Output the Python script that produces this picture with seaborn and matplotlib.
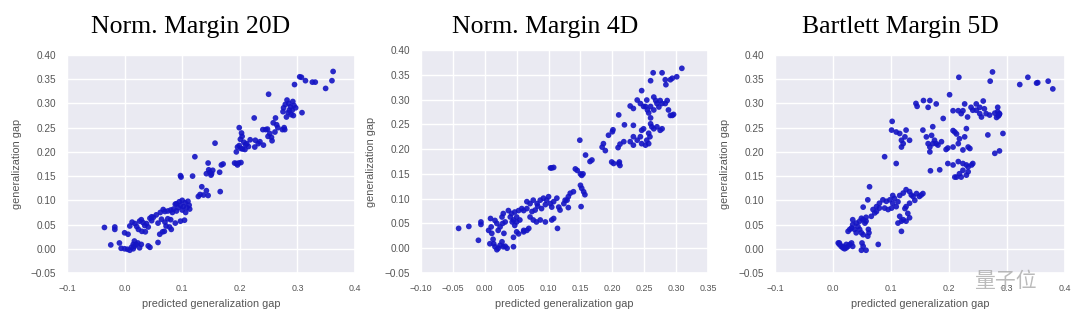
import numpy as np
import pandas as pd
import matplotlib
matplotlib.use("Agg")
import matplotlib.pyplot as plt
import seaborn as sns

titles = ["Norm. Margin 20D", "Norm. Margin 4D", "Bartlett Margin 5D"]
xlabel = "predicted generalization gap"
ylabel = "generalization gap"

x1 = [0.362,0.360,0.349,0.331,0.326,0.314,0.304,0.307,0.295,0.308,0.250,
      0.282,0.285,0.288,0.291,0.294,0.297,0.279,0.276,0.284,0.289,0.293,0.281,0.286,0.275,0.292,0.278,0.277,0.274,
      0.262,0.258,0.264,0.261,0.252,0.249,0.255,0.245,0.248,0.266,0.240,0.256,0.227,0.232,0.241,0.226,0.235,0.225,0.199,
      0.203,0.204,0.201,0.199,0.205,0.215,0.212,0.218,0.196,0.209,0.194,0.210,0.207,0.202,0.191,0.194,0.198,0.202,0.196,0.157,0.122,
      0.145,0.148,0.151,0.142,0.153,0.165,0.168,0.171,0.146,0.150,0.097,0.098,0.118,0.134,0.128,0.131,0.137,0.145,0.142,0.166,
      0.090,0.095,0.100,0.105,0.110,0.097,0.102,0.108,0.112,0.093,0.088,0.085,0.080,0.090,0.100,0.106,0.113,0.075,0.070,0.083,
      0.097,0.104,0.088,0.081,0.078,0.080,
      0.067,0.062,0.055,0.050,0.047,0.058,0.064,0.070,0.075,0.072,0.066,0.061,0.069,0.058,0.041,0.044,
      0.029,0.032,0.035,0.018,0.021,0.024,0.030,0.036,0.041,0.044,0.047,0.013,0.038,0.026,
      -0.035,-0.024,-0.017,-0.017,-0.009,-0.006,0.000,0.005,0.009,0.006,0.000,0.009,0.015,0.017,0.020,0.023,0.017,0.015,0.029,0.026,0.012]
y1 = [0.366,0.347,0.331,0.344,0.344,0.347,0.355,0.354,0.339,0.281,0.319,
      0.307,0.300,0.293,0.286,0.296,0.291,0.298,0.291,0.281,0.277,0.275,0.272,0.286,0.283,0.304,0.246,0.250,0.246,
      0.270,0.260,0.256,0.241,0.238,0.232,0.230,0.246,0.247,0.250,0.246,0.223,0.224,0.217,0.214,0.210,0.221,0.270,0.250,
      0.239,0.232,0.226,0.213,0.206,0.211,0.217,0.225,0.210,0.205,0.200,0.215,0.220,0.207,0.177,0.176,0.177,0.178,0.173,0.218,0.190,
      0.177,0.158,0.155,0.155,0.162,0.158,0.173,0.175,0.163,0.152,0.151,0.148,0.150,0.128,0.108,0.112,0.111,0.110,0.120,0.118,
      0.093,0.097,0.100,0.095,0.098,0.090,0.087,0.085,0.090,0.085,0.092,0.082,0.080,0.078,0.080,0.075,0.082,0.078,0.077,0.075,
      0.057,0.059,0.053,0.040,0.045,0.060,
      0.081,0.075,0.070,0.065,0.058,0.053,0.061,0.055,0.062,0.047,0.035,0.030,0.036,0.013,0.006,0.003,
      0.060,0.054,0.048,0.052,0.046,0.040,0.036,0.035,0.045,0.063,0.066,0.055,0.052,0.057,
      0.044,0.008,0.045,0.040,0.012,0.001,0.000,-0.001,-0.003,0.030,0.033,0.047,0.009,0.005,0.009,0.012,0.016,0.000,0.009,0.002,0.003]

x2 = [0.309,0.301,0.294,0.291,0.284,0.283,0.278,0.264,0.260,0.246,
      0.265,0.268,0.270,0.273,0.275,0.278,0.283,0.286,0.288,0.291,0.294,0.296,0.265,0.260,0.257,0.260,0.255,0.252,
      0.228,0.233,0.239,0.244,0.249,0.254,0.233,0.260,0.262,0.265,0.270,0.275,0.278,0.249,0.246,0.244,0.239,0.233,0.228,0.233,
      0.246,0.252,0.257,0.254,0.259,0.257,0.210,0.219,0.201,0.200,0.194,0.186,0.184,0.189,0.209,0.212,0.218,
      0.199,0.202,0.210,0.211,0.212,0.149,0.158,0.165,0.168,0.142,0.145,0.150,0.152,0.154,0.150,0.152,0.155,0.157,0.151,
      0.103,0.105,0.108,0.139,0.134,0.131,0.129,0.126,0.124,0.131,0.113,0.116,0.118,0.114,
      0.066,0.071,0.076,0.082,0.087,0.092,0.097,0.103,0.105,0.108,0.100,0.089,0.079,0.074,0.083,0.095,
      0.071,0.076,0.081,0.087,0.095,0.105,0.108,0.061,0.066,0.069,0.061,0.053,0.050,0.045,
      0.037,0.042,0.047,0.050,0.055,0.050,0.047,0.045,0.040,0.043,0.053,0.058,0.061,0.066,
      0.029,0.027,0.032,0.028,0.024,0.021,0.019,0.016,0.010,0.009,0.006,0.011,
      0.008,0.014,0.016,0.019,0.021,0.024,0.029,0.027,0.032,0.035,0.045,
      -0.041,-0.025,-0.010,-0.006,-0.006,0.030,0.013]
y2 = [0.363,0.346,0.343,0.340,0.330,0.340,0.354,0.354,0.338,0.318,
      0.305,0.298,0.292,0.285,0.298,0.292,0.292,0.298,0.279,0.268,0.268,0.270,0.279,0.286,0.273,0.263,0.279,0.286,
      0.287,0.282,0.299,0.292,0.286,0.299,0.248,0.251,0.245,0.241,0.245,0.238,0.241,0.241,0.238,0.225,0.218,0.225,0.215,0.208,
      0.211,0.208,0.211,0.218,0.225,0.232,0.269,0.249,0.239,0.235,0.228,0.211,0.204,0.197,0.203,0.210,0.215,
      0.174,0.171,0.171,0.174,0.167,0.218,0.188,0.175,0.178,0.160,0.157,0.150,0.147,0.150,0.127,0.121,0.114,0.108,0.084,
      0.162,0.162,0.163,0.114,0.111,0.104,0.097,0.097,0.090,0.082,0.101,0.083,0.077,0.040,
      0.094,0.090,0.097,0.090,0.097,0.101,0.097,0.090,0.083,0.094,0.104,0.080,0.077,0.074,0.085,0.088,
      0.063,0.057,0.053,0.057,0.053,0.057,0.060,0.036,0.036,0.040,0.033,0.029,0.033,0.022,
      0.076,0.070,0.073,0.063,0.057,0.053,0.046,0.057,0.063,0.053,0.076,0.080,0.076,0.080,
      0.070,0.063,0.053,0.050,0.043,0.036,0.050,0.056,0.043,0.060,0.036,0.030,
      0.009,0.009,0.003,-0.003,0.000,0.006,0.003,0.013,0.004,0.000,0.003,
      0.040,0.044,0.016,0.053,0.048,0.030,0.018]

x3 = [0.322,0.336,0.351,0.353,0.371,0.379,0.275,0.271,0.217,0.201,
      0.279,0.284,0.287,0.286,0.284,0.287,0.270,0.293,0.282,0.285,0.279,0.287,0.267,
      0.247,0.253,0.259,0.261,0.264,0.253,0.241,0.238,0.232,0.247,0.256,0.216,0.221,0.227,0.224,0.207,
      0.207,0.213,0.218,0.216,0.227,0.230,0.233,0.224,0.236,0.207,0.210,0.198,0.195,
      0.198,0.207,0.216,0.224,0.230,0.233,0.239,0.241,0.224,0.218,0.213,0.221,0.230,0.233,0.210,
      0.155,0.161,0.164,0.167,0.172,0.175,0.170,0.178,0.167,0.181,0.172,0.190,0.187,
      0.143,0.145,0.156,0.164,0.167,0.178,0.168,0.184,
      0.102,0.101,0.109,0.115,0.118,0.124,0.126,0.121,0.118,0.132,0.109,0.089,
      0.126,0.132,0.135,0.138,0.144,0.149,0.152,0.155,0.141,0.132,0.124,0.126,0.129,
      0.115,0.121,0.118,0.112,0.126,0.132,0.118,
      0.069,0.075,0.080,0.086,0.092,0.098,0.103,0.106,0.095,0.101,0.109,0.112,0.089,0.080,0.075,0.072,0.066,
      0.063,0.060,0.115,0.121,0.103,
      0.034,0.040,0.043,0.046,0.049,0.052,0.055,0.057,0.046,0.037,0.032,0.034,0.029,0.026,0.040,0.049,0.052,
      0.061,0.062,0.060,0.052,0.057,0.050,0.049,0.057,0.052,0.078,
      0.009,0.011,0.014,0.017,0.020,0.023,0.026,0.029,0.032,0.034,0.023,0.017,0.011]
y3 = [0.339,0.354,0.342,0.343,0.346,0.330,0.365,0.346,0.354,0.318,
      0.280,0.283,0.279,0.276,0.292,0.278,0.276,0.238,0.271,0.274,0.197,0.202,0.235,
      0.299,0.292,0.305,0.289,0.279,0.279,0.286,0.292,0.272,0.286,0.272,0.285,0.279,0.299,0.285,0.285,
      0.244,0.237,0.227,0.217,0.231,0.248,0.210,0.204,0.207,0.210,0.241,0.208,0.205,
      0.176,0.173,0.180,0.176,0.173,0.169,0.173,0.176,0.162,0.155,0.148,0.148,0.152,0.159,0.148,
      0.245,0.231,0.217,0.210,0.217,0.224,0.234,0.217,0.200,0.214,0.252,0.269,0.221,
      0.300,0.294,0.306,0.292,0.306,0.299,0.161,0.163,
      0.263,0.245,0.241,0.238,0.224,0.231,0.245,0.217,0.210,0.224,0.176,0.190,
      0.122,0.118,0.111,0.108,0.114,0.108,0.111,0.114,0.100,0.094,0.083,0.087,0.073,
      0.067,0.060,0.057,0.053,0.057,0.064,0.036,
      0.081,0.087,0.094,0.101,0.098,0.101,0.094,0.104,0.081,0.084,0.087,0.097,0.084,0.084,0.077,0.074,0.067,
      0.128,0.101,0.110,0.115,0.110,
      0.060,0.053,0.046,0.057,0.063,0.060,0.053,0.057,0.040,0.040,0.043,0.050,0.040,0.036,0.033,0.033,0.029,
      0.040,0.033,0.026,0.086,0.065,0.012,-0.003,-0.003,0.005,0.009,
      0.012,0.009,0.005,0.002,0.000,0.002,0.005,0.009,0.012,0.005,0.009,0.005,0.012]

xlims = [(-0.1, 0.4), (-0.1, 0.35), (-0.1, 0.4)]
xsteps = [0.1, 0.05, 0.1]
xfmt = ["{:.1f}", "{:.2f}", "{:.1f}"]

sns.set_theme(style="darkgrid", rc={"axes.facecolor": "#EAEAF2", "grid.color": "white",
                                     "grid.linewidth": 1.0})
plt.rcParams["font.family"] = ["Liberation Sans", "DejaVu Sans"]

fig = plt.figure(figsize=(10.8, 3.28), dpi=100)
positions = [
    [67/1080, 1-273/328, 288/1080, 218/328],
    [421/1080, 1-273/328, 287/1080, 223/328],
    [775/1080, 1-273/328, 290/1080, 218/328],
]
title_x = [191/1080, 545/1080, 900/1080]

data = [(x1, y1), (x2, y2), (x3, y3)]
for i, (xs, ys) in enumerate(data):
    ax = fig.add_axes(positions[i])
    df = pd.DataFrame({"x": xs, "y": ys})
    sns.scatterplot(data=df, x="x", y="y", ax=ax, color="#1414c4", alpha=0.9,
                    s=17, linewidth=0, edgecolor="none")
    ax.set_xlim(*xlims[i])
    ax.set_ylim(-0.05, 0.40)
    xt = np.arange(xlims[i][0], xlims[i][1] + 1e-9, xsteps[i])
    ax.set_xticks(xt)
    ax.set_xticklabels([xfmt[i].format(v).replace("-", "\u2212") for v in xt])
    yt = np.arange(-0.05, 0.40 + 1e-9, 0.05)
    ax.set_yticks(yt)
    ax.set_yticklabels(["{:.2f}".format(v).replace("-", "\u2212") for v in yt])
    ax.tick_params(axis="x", labelsize=6.4, colors="#555555", pad=2)
    ax.tick_params(axis="y", labelsize=7.2, colors="#555555", pad=2)
    ax.set_xlabel(xlabel, fontsize=7.8, color="#555555", labelpad=4)
    ax.set_ylabel(ylabel, fontsize=7.8, color="#555555", labelpad=6)
    fig.text(title_x[i], 1-27/328, titles[i], ha="center", va="center",
             fontsize=18.5, family="Liberation Serif", color="black")

fig.text(1005/1080, 1-281/328, "量子位", ha="center", va="center", fontsize=15,
         family=["Noto Sans CJK SC", "DejaVu Sans"], color="#aaaaaa", alpha=0.8)

fig.savefig("out.png", dpi=100)
